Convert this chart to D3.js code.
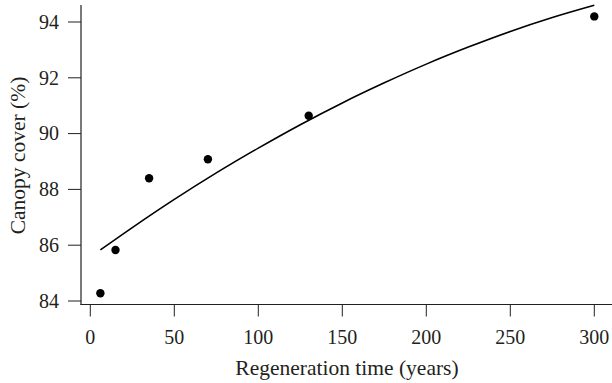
<!DOCTYPE html>
<html>
<head>
<meta charset="utf-8">
<script src="https://cdn.jsdelivr.net/npm/d3@7"></script>
<style>
  html, body { margin: 0; padding: 0; background: #fff; }
  svg { display: block; }
  text { font-family: "Liberation Serif", "DejaVu Serif", serif; fill: #231f20; }
</style>
</head>
<body>
<svg id="chart" width="612" height="383"></svg>
<script>
// Observed canopy cover by regeneration time
const regenYears = [6, 15, 35, 70, 130, 300];
const canopyCover = [84.28, 85.83, 88.40, 89.08, 90.64, 94.20];

// Fitted trend line, sampled along the regeneration axis
const fitYears = [6, 25, 50, 75, 100, 125, 150, 175, 200, 225, 250, 275, 300];
const fitCover = [85.83, 86.63, 87.64, 88.59, 89.48, 90.32, 91.10, 91.82, 92.49, 93.10, 93.66, 94.16, 94.60];

// Axis ticks
const xTicks = [0, 50, 100, 150, 200, 250, 300];
const yTicks = [84, 86, 88, 90, 92, 94];

const svg = d3.select("#chart");
const ink = "#231f20";

const x = d3.scaleLinear().domain([0, 300]).range([90.3, 594.3]);
const y = d3.scaleLinear().domain([84, 94]).range([301, 22]);

// Axis lines (open L-shaped frame)
const axisLeftX = 81, axisBottomY = 304.5;
svg.append("line")
  .attr("x1", axisLeftX).attr("x2", axisLeftX)
  .attr("y1", 5).attr("y2", axisBottomY + 0.5)
  .attr("stroke", ink).attr("stroke-width", 1.2);
svg.append("line")
  .attr("x1", axisLeftX - 0.5).attr("x2", 612)
  .attr("y1", axisBottomY).attr("y2", axisBottomY)
  .attr("stroke", ink).attr("stroke-width", 1.2);

// Y ticks and labels
const yAxis = svg.append("g");
yAxis.selectAll("line").data(yTicks).join("line")
  .attr("x1", 68).attr("x2", axisLeftX)
  .attr("y1", d => y(d)).attr("y2", d => y(d))
  .attr("stroke", ink).attr("stroke-width", 1);
yAxis.selectAll("text").data(yTicks).join("text")
  .attr("x", 59).attr("y", d => y(d))
  .attr("dy", "0.34em")
  .attr("text-anchor", "end")
  .attr("font-size", 20)
  .text(d => d);

// X ticks and labels
const xAxis = svg.append("g");
xAxis.selectAll("line").data(xTicks).join("line")
  .attr("x1", d => x(d)).attr("x2", d => x(d))
  .attr("y1", axisBottomY).attr("y2", 316.5)
  .attr("stroke", ink).attr("stroke-width", 1);
xAxis.selectAll("text").data(xTicks).join("text")
  .attr("x", d => x(d)).attr("y", 344)
  .attr("text-anchor", "middle")
  .attr("font-size", 20)
  .text(d => d);

// Axis titles
svg.append("text")
  .attr("x", 347).attr("y", 374.5)
  .attr("text-anchor", "middle")
  .attr("font-size", 21.5)
  .text("Regeneration time (years)");
svg.append("text")
  .attr("transform", "translate(24.5,155.5) rotate(-90)")
  .attr("text-anchor", "middle")
  .attr("font-size", 21.5)
  .text("Canopy cover (%)");

// Trend curve
const fitData = fitYears.map((t, i) => ({ t, c: fitCover[i] }));
svg.append("path")
  .datum(fitData)
  .attr("fill", "none")
  .attr("stroke", "#000")
  .attr("stroke-width", 1.6)
  .attr("d", d3.line().x(d => x(d.t)).y(d => y(d.c)).curve(d3.curveMonotoneX));

// Observed points
const pts = regenYears.map((t, i) => ({ t, c: canopyCover[i] }));
svg.append("g").selectAll("circle").data(pts).join("circle")
  .attr("cx", d => x(d.t)).attr("cy", d => y(d.c))
  .attr("r", 4.2)
  .attr("fill", "#000");
</script>
</body>
</html>
